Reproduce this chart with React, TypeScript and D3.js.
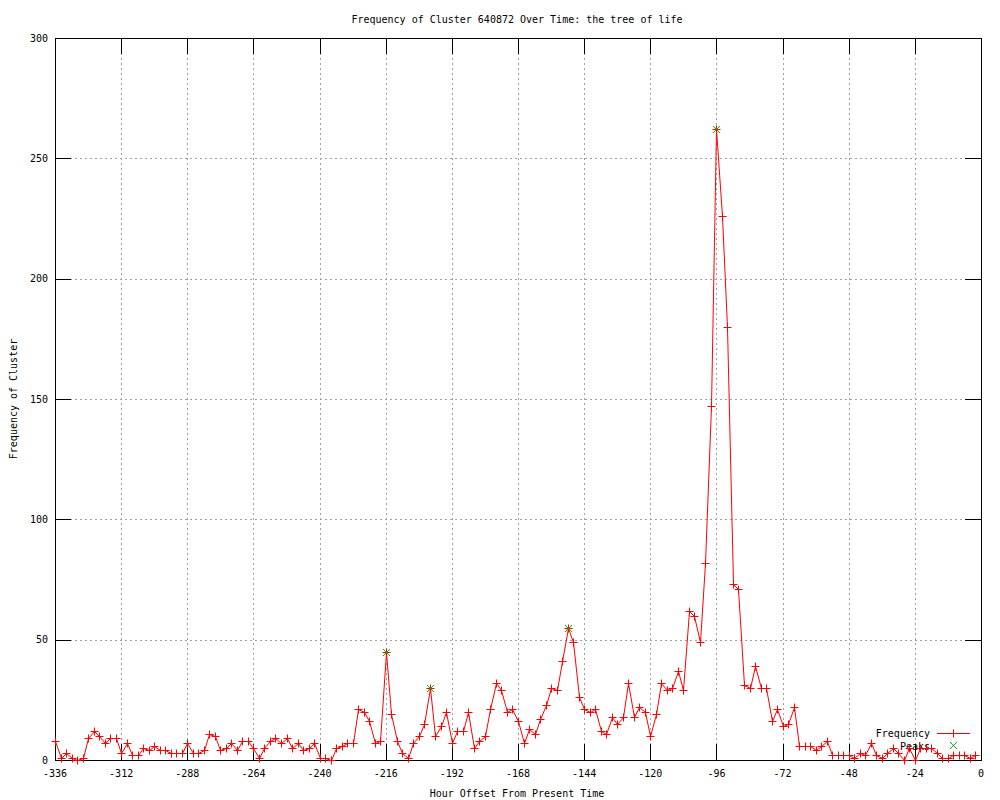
import React from "react";
import * as d3 from "d3";

const title = "Frequency of Cluster 640872 Over Time: the tree of life";
const xLabel = "Hour Offset From Present Time";
const yLabel = "Frequency of Cluster";

// hour offsets (every 2 hours) from -336 to -2
const hours: number[] = d3.range(-336, 0, 2);

const frequency: number[] = [
  8, 1, 3, 1, 0, 1, 9, 12, 10, 7, 9, 9,
  3, 7, 2, 2, 5, 4, 6, 4, 4, 3, 3, 3,
  7, 3, 3, 4, 11, 10, 4, 5, 7, 4, 8, 8,
  5, 1, 5, 8, 9, 7, 9, 5, 7, 4, 5, 7,
  1, 1, 0, 5, 6, 7, 7, 21, 20, 16, 7, 8,
  45, 19, 8, 3, 1, 7, 10, 15, 30, 10, 14, 20,
  7, 12, 12, 20, 5, 8, 10, 21, 32, 29, 20, 21,
  16, 7, 13, 11, 17, 23, 30, 29, 41, 55, 49, 26,
  21, 20, 21, 12, 11, 18, 15, 18, 32, 18, 22, 20,
  10, 19, 32, 29, 30, 37, 29, 62, 60, 49, 82, 147,
  262, 226, 180, 73, 71, 31, 30, 39, 30, 30, 16, 21,
  14, 15, 22, 6, 6, 6, 4, 6, 8, 2, 2, 2,
  2, 1, 3, 2, 7, 2, 1, 3, 5, 3, 0, 5,
  0, 5, 5, 5, 3, 1, 1, 2, 2, 2, 1, 2,
];

const peakHours: number[] = [-216, -200, -150, -96];
const peakValues: number[] = [45, 30, 55, 262];

const xTicks: number[] = [-336, -312, -288, -264, -240, -216, -192, -168, -144, -120, -96, -72, -48, -24, 0];
const yTicks: number[] = [0, 50, 100, 150, 200, 250, 300];

const W = 1000;
const H = 800;
const L = 55;
const R = 981;
const T = 38;
const B = 760;
const TICK = 16;
const FONT = "'DejaVu Sans Mono', 'Liberation Mono', monospace";
const RED = "#ff0000";
const GREEN = "#00c000";
const GRID = "#a0a0a0";

function Plus({ x, y, s = 4, color }: { x: number; y: number; s?: number; color: string }) {
  const cx = Math.round(x) + 0.5;
  const cy = Math.round(y) + 0.5;
  return (
    <path d={`M${cx - s},${cy}H${cx + s}M${cx},${cy - s}V${cy + s}`} stroke={color} strokeWidth={1} fill="none" />
  );
}

function Cross({ x, y, s = 3.5, color }: { x: number; y: number; s?: number; color: string }) {
  const cx = Math.round(x) + 0.5;
  const cy = Math.round(y) + 0.5;
  return (
    <path
      d={`M${cx - s},${cy - s}L${cx + s},${cy + s}M${cx - s},${cy + s}L${cx + s},${cy - s}`}
      stroke={color}
      strokeWidth={1}
      fill="none"
    />
  );
}

export default function App() {
  const x = d3.scaleLinear().domain([-336, 0]).range([L, R]);
  const y = d3.scaleLinear().domain([0, 300]).range([B, T]);

  const data = hours.map((h, i) => ({ h, v: frequency[i] }));
  const line = d3
    .line<{ h: number; v: number }>()
    .x((d) => Math.round(x(d.h)) + 0.5)
    .y((d) => Math.round(y(d.v)) + 0.5);

  const px = (v: number) => Math.round(v) + 0.5;

  return (
    <svg
      width={W}
      height={H}
      viewBox={`0 0 ${W} ${H}`}
      style={{ position: "absolute", left: 0, top: 0, background: "#fff" }}
      fontFamily={FONT}
      fontSize={10}
    >
      <rect x={0} y={0} width={W} height={H} fill="#fff" />

      {/* grid */}
      <g stroke={GRID} strokeWidth={1} strokeDasharray="2,3" shapeRendering="crispEdges">
        {xTicks.slice(1, -1).map((t) => (
          <line key={"gx" + t} x1={px(x(t))} x2={px(x(t))} y1={T} y2={B} />
        ))}
        {yTicks.slice(1, -1).map((t) => (
          <line key={"gy" + t} x1={L} x2={R} y1={px(y(t))} y2={px(y(t))} />
        ))}
      </g>

      {/* ticks */}
      <g stroke="#000" strokeWidth={1} shapeRendering="crispEdges">
        {xTicks.map((t) => (
          <g key={"tx" + t}>
            <line x1={px(x(t))} x2={px(x(t))} y1={B} y2={B - TICK} />
            <line x1={px(x(t))} x2={px(x(t))} y1={T} y2={T + TICK} />
          </g>
        ))}
        {yTicks.map((t) => (
          <g key={"ty" + t}>
            <line x1={L} x2={L + TICK} y1={px(y(t))} y2={px(y(t))} />
            <line x1={R} x2={R - TICK} y1={px(y(t))} y2={px(y(t))} />
          </g>
        ))}
      </g>

      {/* border */}
      <rect
        x={L + 0.5}
        y={T + 0.5}
        width={R - L}
        height={B - T}
        fill="none"
        stroke="#000"
        strokeWidth={1}
        shapeRendering="crispEdges"
      />

      {/* tick labels */}
      <g fill="#000">
        {xTicks.map((t) => (
          <text key={"lx" + t} x={x(t)} y={773} textAnchor="middle" dominantBaseline="central">
            {String(t)}
          </text>
        ))}
        {yTicks.map((t) => (
          <text key={"ly" + t} x={48} y={y(t)} textAnchor="end" dominantBaseline="central">
            {String(t)}
          </text>
        ))}
      </g>

      {/* title and axis labels */}
      <text x={517} y={19} textAnchor="middle" dominantBaseline="central" fill="#000">
        {title}
      </text>
      <text x={517} y={793} textAnchor="middle" dominantBaseline="central" fill="#000">
        {xLabel}
      </text>
      <text
        x={13}
        y={399}
        textAnchor="middle"
        dominantBaseline="central"
        fill="#000"
        transform="rotate(-90 13 399)"
      >
        {yLabel}
      </text>

      {/* legend */}
      <text x={930} y={733} textAnchor="end" dominantBaseline="central" fill="#000">
        Frequency
      </text>
      <line x1={937} x2={970} y1={733.5} y2={733.5} stroke={RED} strokeWidth={1} shapeRendering="crispEdges" />
      <Plus x={953} y={733} color={RED} />
      <text x={930} y={746} textAnchor="end" dominantBaseline="central" fill="#000">
        Peaks
      </text>
      <Cross x={953} y={745} color={GREEN} />

      {/* frequency series */}
      <path d={line(data) || ""} fill="none" stroke={RED} strokeWidth={1} />
      {data.map((d) => (
        <Plus key={"p" + d.h} x={x(d.h)} y={y(d.v)} color={RED} />
      ))}

      {/* peaks */}
      {peakHours.map((h, i) => (
        <Cross key={"k" + h} x={x(h)} y={y(peakValues[i])} color={GREEN} />
      ))}
    </svg>
  );
}
